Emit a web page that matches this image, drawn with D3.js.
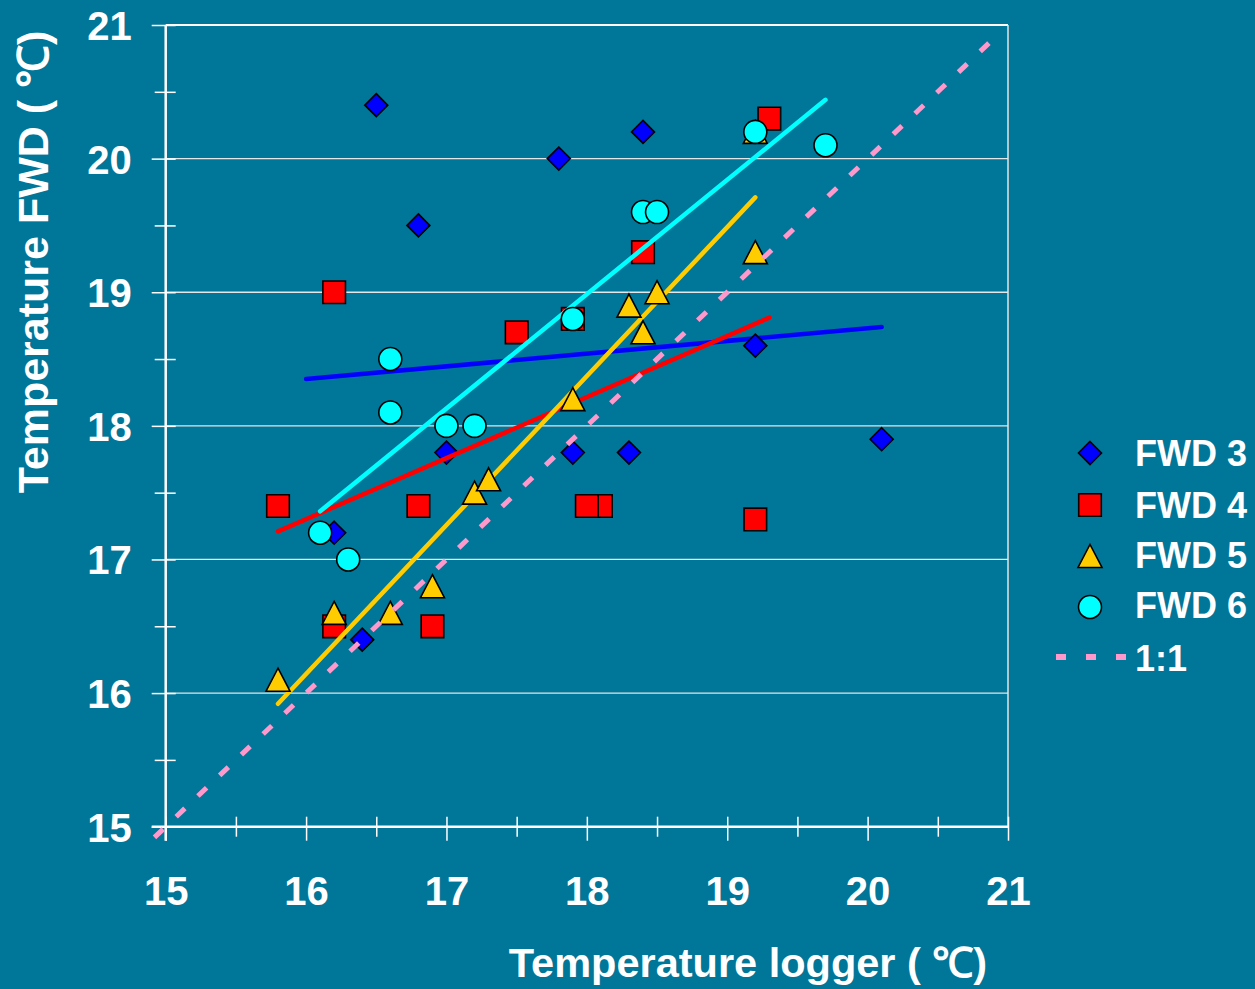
<!DOCTYPE html>
<html>
<head>
<meta charset="utf-8">
<script src="https://cdn.jsdelivr.net/npm/d3@7"></script>
<style>
html,body{margin:0;padding:0;background:#007699;}
svg{display:block;}
text{font-family:"Liberation Sans",Arial,sans-serif;font-weight:bold;fill:#fff;}
</style>
</head>
<body>
<svg id="chart" width="1255" height="989"></svg>
<script>
// ---- data ----
const fwd3X = [16.5, 16.8, 17.8, 18.4, 17.0, 16.2, 16.4, 17.9, 18.3, 19.2, 20.1];
const fwd3Y = [20.4, 19.5, 20.0, 20.2, 17.8, 17.2, 16.4, 17.8, 17.8, 18.6, 17.9];

const fwd4X = [16.2, 15.8, 17.5, 16.8, 16.2, 16.9, 17.9, 18.4, 19.3, 18.1, 18.0, 19.2];
const fwd4Y = [19.0, 17.4, 18.7, 17.4, 16.5, 16.5, 18.8, 19.3, 20.3, 17.4, 17.4, 17.3];

const fwd5X = [15.8, 16.2, 16.6, 16.9, 17.2, 17.3, 17.9, 18.3, 18.4, 18.5, 19.2, 19.2];
const fwd5Y = [16.1, 16.6, 16.6, 16.8, 17.5, 17.6, 18.2, 18.9, 18.7, 19.0, 19.3, 20.2];

const fwd6X = [16.1, 16.3, 16.6, 16.6, 17.0, 17.2, 17.9, 18.4, 18.5, 19.2, 19.7];
const fwd6Y = [17.2, 17.0, 18.5, 18.1, 18.0, 18.0, 18.8, 19.6, 19.6, 20.2, 20.1];

// trend line end points [x0, y0, x1, y1]
const trend3 = [16.0, 18.35, 20.1, 18.74];
const trend4 = [15.8, 17.21, 19.3, 18.81];
const trend5 = [15.8, 15.92, 19.2, 19.71];
const trend6 = [16.1, 17.36, 19.7, 20.44];
const oneToOne = [14.92, 14.92, 20.9, 20.9];

const seriesNames = ["FWD 3", "FWD 4", "FWD 5", "FWD 6"];
const lineName = "1:1";
const xTicks = [15, 16, 17, 18, 19, 20, 21];
const yTicks = [15, 16, 17, 18, 19, 20, 21];
const xMinor = [15.5, 16.5, 17.5, 18.5, 19.5, 20.5];
const yMinor = [15.5, 16.5, 17.5, 18.5, 19.5, 20.5];
const xTitle = "Temperature logger ( ℃)";
const yTitle = "Temperature FWD ( ℃)";

// ---- drawing ----
const svg = d3.select("#chart");
const x = d3.scaleLinear().domain([15, 21]).range([165.7, 1008]);
const y = d3.scaleLinear().domain([15, 21]).range([826.7, 25]);

const colors = ["#0000FF", "#FF0000", "#FFCC00", "#00FFFF"];

// marker shapes (bounding-box centred, ~23px)
const shapePaths = [
  () => { const p = d3.path(); p.moveTo(0, -11.5); p.lineTo(11.5, 0); p.lineTo(0, 11.5); p.lineTo(-11.5, 0); p.closePath(); return p.toString(); },
  () => { const p = d3.path(); p.rect(-11.3, -11.3, 22.6, 22.6); return p.toString(); },
  () => { const p = d3.path(); p.moveTo(0, -11.5); p.lineTo(12, 11.5); p.lineTo(-12, 11.5); p.closePath(); return p.toString(); },
  () => { const p = d3.path(); p.arc(0, 0, 11.5, 0, 2 * Math.PI); p.closePath(); return p.toString(); }
];

// background
svg.append("rect").attr("width", 1255).attr("height", 989).attr("fill", "#007699");

// gridlines
svg.append("g").selectAll("line").data(yTicks.filter(d => d > 15)).join("line")
  .attr("x1", x(15)).attr("x2", x(21))
  .attr("y1", d => y(d)).attr("y2", d => y(d))
  .attr("stroke", d => d === 21 ? "#ffffff" : "#e6e6e6")
  .attr("stroke-width", d => d === 21 ? 2 : 1.3);

// right border
svg.append("line").attr("x1", x(21)).attr("x2", x(21)).attr("y1", y(21)).attr("y2", y(15))
  .attr("stroke", "#e6e6e6").attr("stroke-width", 1.5);

// x axis
const gx = svg.append("g").attr("transform", `translate(0,${y(15)})`);
gx.call(d3.axisBottom(x).tickValues(xTicks).tickSize(14).tickFormat(d3.format("d")));
gx.select(".domain").attr("stroke", "#fff").attr("stroke-width", 2.5).attr("d", `M${x(15)-14},0H${x(21)}`);
gx.selectAll(".tick line").attr("y1", -10).attr("stroke", "#fff").attr("stroke-width", 1.5);
gx.selectAll(".tick text").attr("y", 78).attr("dy", null)
  .attr("font-size", 40).attr("fill", "#fff").attr("font-family", "Liberation Sans, Arial, sans-serif").attr("font-weight", "bold");
const gxm = svg.append("g").attr("transform", `translate(0,${y(15)})`);
gxm.call(d3.axisBottom(x).tickValues(xMinor).tickSize(10).tickFormat(""));
gxm.select(".domain").remove();
gxm.selectAll(".tick line").attr("y1", -10).attr("stroke", "#fff").attr("stroke-width", 1.5);

// y axis
const gy = svg.append("g").attr("transform", `translate(${x(15)},0)`);
gy.call(d3.axisLeft(y).tickValues(yTicks).tickSize(14).tickFormat(d3.format("d")));
gy.select(".domain").attr("stroke", "#fff").attr("stroke-width", 2.5).attr("d", `M0,${y(15)+14}V${y(21)}`);
gy.selectAll(".tick line").attr("x1", 10).attr("stroke", "#fff").attr("stroke-width", 1.5);
gy.selectAll(".tick text").attr("x", -34).attr("dy", "0.36em")
  .attr("font-size", 40).attr("fill", "#fff").attr("font-family", "Liberation Sans, Arial, sans-serif").attr("font-weight", "bold");
const gym = svg.append("g").attr("transform", `translate(${x(15)},0)`);
gym.call(d3.axisLeft(y).tickValues(yMinor).tickSize(11).tickFormat(""));
gym.select(".domain").remove();
gym.selectAll(".tick line").attr("x1", 10).attr("stroke", "#fff").attr("stroke-width", 1.5);

// axis titles
svg.append("text").attr("x", 748).attr("y", 977).attr("text-anchor", "middle")
  .attr("font-size", 41.5).text(xTitle);
svg.append("text").attr("transform", `translate(48,262) rotate(-90)`).attr("text-anchor", "middle")
  .attr("font-size", 43).text(yTitle);

// series: trendline then markers
const xs = [fwd3X, fwd4X, fwd5X, fwd6X];
const ys = [fwd3Y, fwd4Y, fwd5Y, fwd6Y];
const trends = [trend3, trend4, trend5, trend6];

xs.forEach((xa, i) => {
  const t = trends[i];
  svg.append("line")
    .attr("x1", x(t[0])).attr("y1", y(t[1])).attr("x2", x(t[2])).attr("y2", y(t[3]))
    .attr("stroke", colors[i]).attr("stroke-width", 4.5).attr("stroke-linecap", "round");
  const pts = xa.map((v, j) => [v, ys[i][j]]);
  svg.append("g").selectAll("path").data(pts).join("path")
    .attr("transform", d => `translate(${x(d[0])},${y(d[1])})`)
    .attr("d", shapePaths[i]())
    .attr("fill", colors[i]).attr("stroke", "#000").attr("stroke-width", 1.6)
    .attr("stroke-linejoin", "miter");
});

// 1:1 line
svg.append("line")
  .attr("x1", x(oneToOne[0])).attr("y1", y(oneToOne[1])).attr("x2", x(oneToOne[2])).attr("y2", y(oneToOne[3]))
  .attr("stroke", "#FF99CC").attr("stroke-width", 5).attr("stroke-dasharray", "12,18");

// legend
const legY = [453, 505, 556, 607];
const legBase = [466, 518, 568, 618];
seriesNames.forEach((name, i) => {
  svg.append("path").attr("transform", `translate(1090,${legY[i]})`)
    .attr("d", shapePaths[i]())
    .attr("fill", colors[i]).attr("stroke", "#000").attr("stroke-width", 1.6);
  svg.append("text").attr("x", 1135).attr("y", legBase[i]).attr("font-size", 36).text(name);
});
svg.append("line").attr("x1", 1056).attr("x2", 1126).attr("y1", 657).attr("y2", 657)
  .attr("stroke", "#FF99CC").attr("stroke-width", 6).attr("stroke-dasharray", "10,20");
svg.append("text").attr("x", 1135).attr("y", 671).attr("font-size", 36).text(lineName);
</script>
</body>
</html>
